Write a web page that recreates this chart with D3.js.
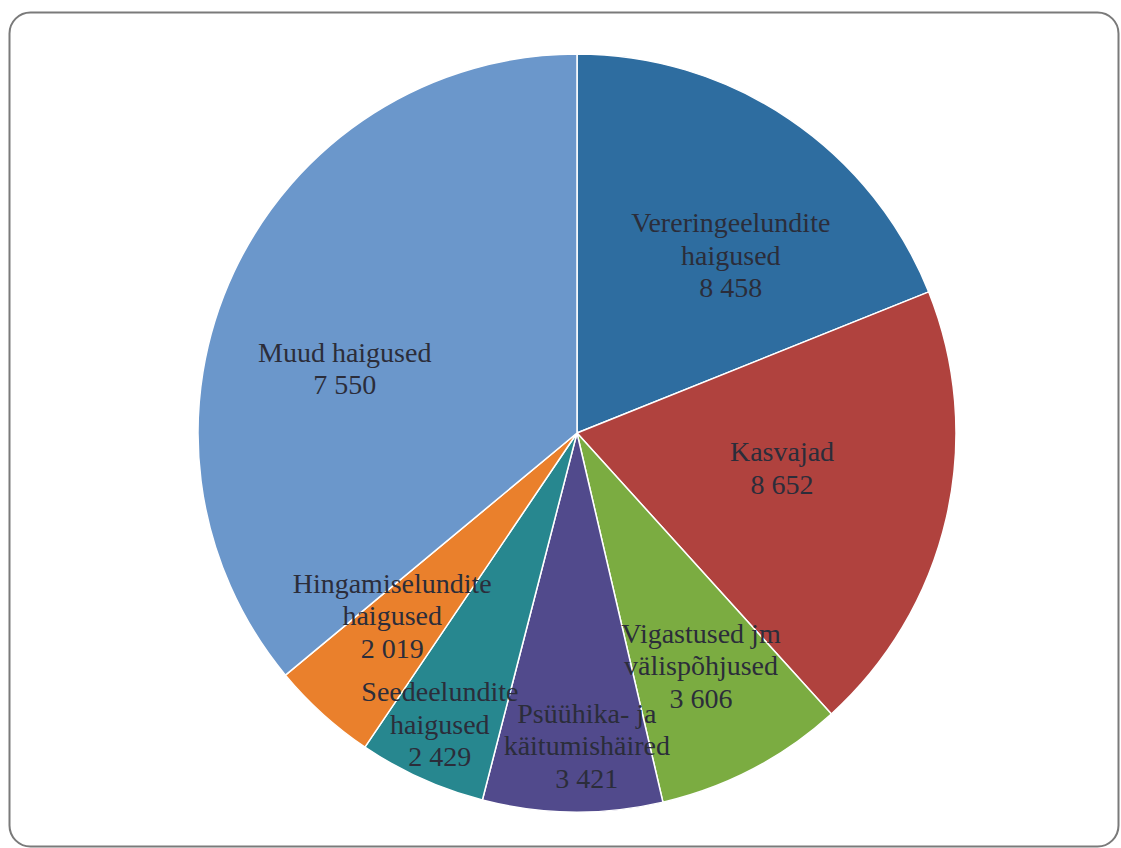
<!DOCTYPE html>
<html>
<head>
<meta charset="utf-8">
<script src="https://cdn.jsdelivr.net/npm/d3@7"></script>
<style>
  html, body { margin: 0; padding: 0; background: #ffffff; }
  svg { display: block; }
</style>
</head>
<body>
<svg id="chart" width="1121" height="848"></svg>
<script>
// ---- data ----
const categories = [
  "Vereringeelundite haigused",
  "Kasvajad",
  "Vigastused jm välispõhjused",
  "Psüühika- ja käitumishäired",
  "Seedeelundite haigused",
  "Hingamiselundite haigused",
  "Muud haigused"
];
// values printed in the data labels
const labelValues = [8458, 8652, 3606, 3421, 2429, 2019, 7550];
// slice sizes as drawn in the picture (the "Muud" slice is drawn much larger than its label)
const sliceValues = [8458, 8652, 3606, 3421, 2429, 2019, 16100];
// how each label is broken into lines
const labelLines = [
  ["Vereringeelundite", "haigused"],
  ["Kasvajad"],
  ["Vigastused jm", "välispõhjused"],
  ["Psüühika- ja", "käitumishäired"],
  ["Seedeelundite", "haigused"],
  ["Hingamiselundite", "haigused"],
  ["Muud haigused"]
];

// ---- styles / layout ----
const colors = ["#2E6DA0", "#B0423E", "#7BAC41", "#514A8C", "#27878F", "#EA802C", "#6B97CB"];
// label placement: [angle in degrees clockwise from 12 o'clock, radius as fraction of pie radius]
const labelPlacement = [[40.9, 0.62], [99.8, 0.549], [152.0, 0.697], [178.2, 0.826], [205.2, 0.85], [225.3, 0.686], [285.5, 0.636]];

const W = 1121, H = 848;
const cx = 577, cy = 433, R = 379;
const fontSize = 28, lineH = 32.5;

const svg = d3.select("#chart");

// outer chart border
svg.append("rect")
  .attr("x", 9.5).attr("y", 12.5)
  .attr("width", 1109).attr("height", 834)
  .attr("rx", 21).attr("ry", 21)
  .attr("fill", "#ffffff")
  .attr("stroke", "#7a7a7a")
  .attr("stroke-width", 2);

const data = categories.map((c, i) => ({
  name: c, value: labelValues[i], slice: sliceValues[i], lines: labelLines[i], color: colors[i], place: labelPlacement[i]
}));

const pie = d3.pie().sort(null).value(d => d.slice).startAngle(0).endAngle(2 * Math.PI);
const arc = d3.arc().innerRadius(0).outerRadius(R);
const arcs = pie(data);

const g = svg.append("g").attr("transform", `translate(${cx},${cy})`);

g.selectAll("path.slice")
  .data(arcs)
  .join("path")
  .attr("class", "slice")
  .attr("d", arc)
  .attr("fill", d => d.data.color)
  .attr("stroke", "#ffffff")
  .attr("stroke-width", 1.5)
  .attr("stroke-linejoin", "round");

const fmt = v => d3.format(",")(v).replace(/,/g, " ");

const labels = g.selectAll("text.lbl")
  .data(arcs)
  .join("text")
  .attr("class", "lbl")
  .attr("font-family", "'Liberation Serif', 'Times New Roman', serif")
  .attr("font-size", fontSize)
  .attr("fill", "#2b2d3a")
  .attr("text-anchor", "middle")
  .each(function(d) {
    const a = d.data.place[0] * Math.PI / 180;
    const r = d.data.place[1] * R;
    const x = r * Math.sin(a), y = -r * Math.cos(a);
    const lines = d.data.lines.concat([fmt(d.data.value)]);
    const n = lines.length;
    const t = d3.select(this);
    lines.forEach((ln, i) => {
      t.append("tspan")
        .attr("x", x)
        .attr("y", y + (i - (n - 1) / 2) * lineH + fontSize * 0.33)
        .text(ln);
    });
  });
</script>
</body>
</html>
